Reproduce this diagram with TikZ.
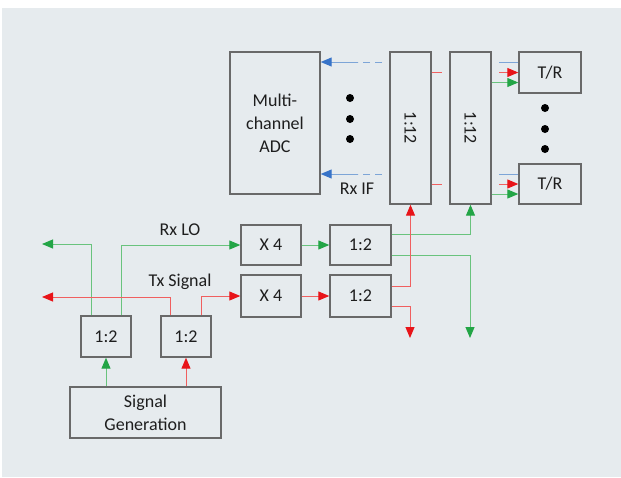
\documentclass[tikz,border=0pt]{standalone}
\usepackage{fontspec}
\setmainfont{Carlito}
\usetikzlibrary{positioning, arrows.meta}
\definecolor{mybg}{RGB}{230,235,238}
\definecolor{mybox}{RGB}{105,105,105}
\definecolor{mytext}{RGB}{30,30,30}
\definecolor{mygreen}{RGB}{35,165,70}
\definecolor{mygreenl}{RGB}{105,195,125}
\definecolor{myred}{RGB}{232,20,25}
\definecolor{myredl}{RGB}{240,95,95}
\definecolor{myblue}{RGB}{55,115,200}
\definecolor{mybluel}{RGB}{125,165,215}

\tikzset{
	blk/.style = {rectangle, draw = mybox, line width = 1.4pt, fill = mybg, text = mytext, align = center, inner sep = 0pt, font = \fontsize{18}{23}\selectfont},
	lbl/.style = {text = mytext, font = \fontsize{18}{23}\selectfont, inner sep = 0pt},
	gar/.style = {draw = mygreenl, line width = 1pt, -{Triangle[length=11pt, width=9pt, color=mygreen]}},
	rar/.style = {draw = myredl, line width = 1pt, -{Triangle[length=11pt, width=9pt, color=myred]}},
	bar/.style = {draw = mybluel, line width = 1pt, -{Triangle[length=11pt, width=9pt, color=myblue]}},
	gln/.style = {draw = mygreenl, line width = 1pt},
	rln/.style = {draw = myredl, line width = 1pt},
	bln/.style = {draw = mybluel, line width = 1pt}
}

\begin{document}
\begin{tikzpicture}[x = 1pt, y = -1pt]

\useasboundingbox (0,0) rectangle (621,477);
\fill[white] (0,0) rectangle (621,477);
\fill[mybg] (2,8) rectangle (621,477);

\draw (275,123) node [blk, minimum width = 90pt, minimum height = 142pt] (adc) {Multi-\\channel\\ADC};
\draw (410.5,128) node [blk, minimum width = 41pt, minimum height = 152pt] (mA) {\rotatebox{-90}{1:12}};
\draw (470.5,128) node [blk, minimum width = 41pt, minimum height = 152pt] (mB) {\rotatebox{-90}{1:12}};
\draw (550,72.5) node [blk, minimum width = 62pt, minimum height = 41pt] (tr1) {T/R};
\draw (550,184) node [blk, minimum width = 62pt, minimum height = 40pt] (tr2) {T/R};

\draw (271,245) node [blk, minimum width = 60pt, minimum height = 40pt] (x4a) {X 4};
\draw (360.5,245) node [blk, minimum width = 61pt, minimum height = 40pt] (d1a) {1:2};
\draw (271,296) node [blk, minimum width = 60pt, minimum height = 42pt] (x4b) {X 4};
\draw (360.5,296) node [blk, minimum width = 61pt, minimum height = 42pt] (d1b) {1:2};

\draw (106,336.5) node [blk, minimum width = 50pt, minimum height = 41pt] (s1) {1:2};
\draw (186,336.5) node [blk, minimum width = 50pt, minimum height = 41pt] (s2) {1:2};
\draw (145.5,412.5) node [blk, minimum width = 151pt, minimum height = 51pt] (sg) {Signal\\Generation};

\foreach \y in {98,119,139}{
	\fill (350,\y) circle (4pt);
};
\foreach \y in {108,129,149}{
	\fill (545,\y) circle (4pt);
};

\coordinate (lo_out) at (42,244);
\coordinate (tx_out) at (42,297);
\coordinate (lo_dn) at (470,338);
\coordinate (tx_dn) at (410,338);
\coordinate (if1) at (358,62);
\coordinate (if1e) at (382,62);
\coordinate (if2) at (358,174);
\coordinate (if2e) at (382,174);

%----------LABELS-------------%
\draw (180,230) node [lbl] (rxlo) {Rx LO};
\draw (180,282) node [lbl] (txsig) {Tx Signal};
\draw (357,189) node [lbl] (rxif) {Rx IF};

%----------SOURCE LINKS-------------%
\draw[gar] (sg.north -| s1.south) -- (s1.south);
\draw[rar] (sg.north -| s2.south) -- (s2.south);
\draw[gar] ([xshift=-15pt]s1.north) |- (lo_out);
\draw[gar] ([xshift=15pt]s1.north) |- (x4a.west);
\draw[rar] ([xshift=-16pt]s2.north) |- (tx_out);
\draw[rar] ([xshift=15pt]s2.north) |- (x4b.west);

\draw[gar] (x4a.east) -- (d1a.west);
\draw[rar] (x4b.east) -- (d1b.west);

%----------LO / TX FEEDS-------------%
\draw[gar] ([yshift=11pt]d1a.east) -| (mB.south);
\draw[gar] ([yshift=-10pt]d1a.east) -| (lo_dn);
\draw[rar] ([yshift=10pt]d1b.east) -| (mA.south);
\draw[rar] ([yshift=-10pt]d1b.east) -| (tx_dn);

%----------RX IF-------------%
\draw[bar] (if1) -- (if1 -| adc.east);
\draw[bln, dash pattern = on 7pt off 5pt] (if1e) -- (if1);
\draw[bar] (if2) -- (if2 -| adc.east);
\draw[bln, dash pattern = on 7pt off 5pt] (if2e) -- (if2);

%----------T/R LINKS-------------%
\foreach \t in {tr1,tr2}{
	\draw[rln] (mA.east |- \t.west) -- ++(10,0);
	\draw[bln] ([yshift=10pt]\t.west) -- ++(-19,0);
	\draw[rar] ([xshift=-19pt]\t.west) -- (\t.west);
	\draw[gar] ([yshift=-10pt]\t.west -| mB.east) -- ([yshift=-10pt]\t.west);
};

\end{tikzpicture}
\end{document}
